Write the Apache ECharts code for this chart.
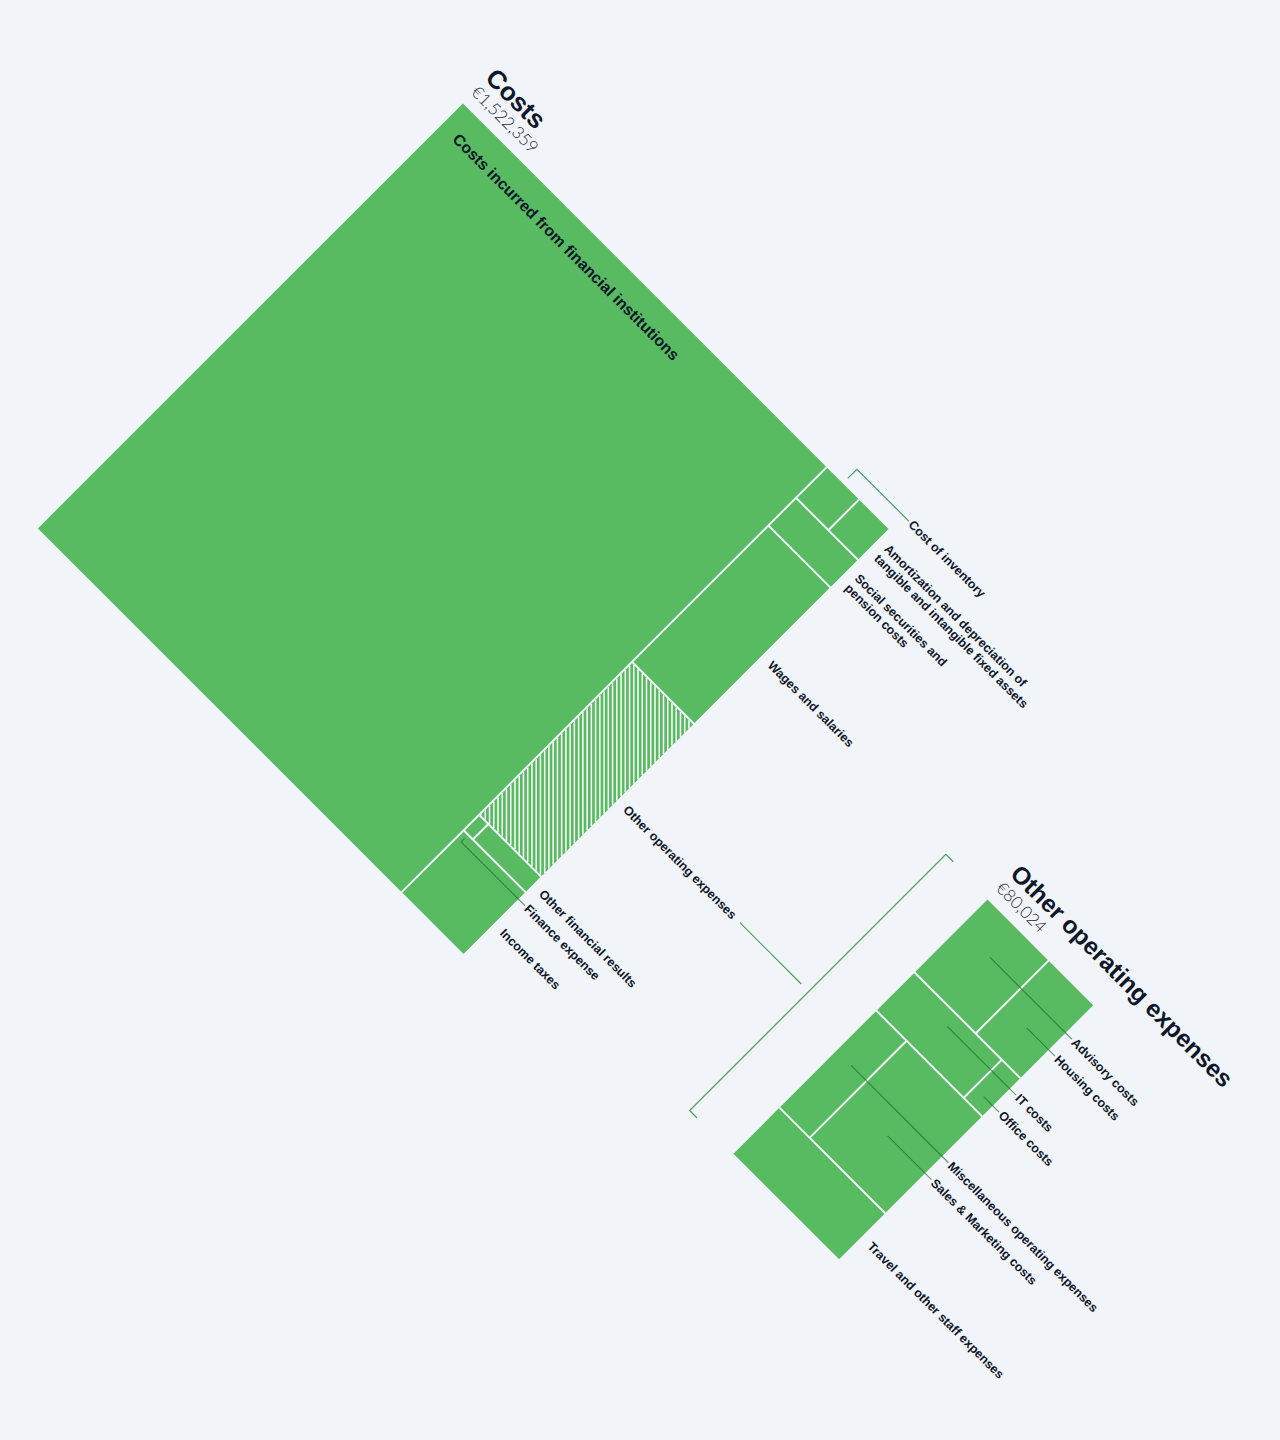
<!DOCTYPE html>
<html>
<head>
<meta charset="utf-8">
<script src="https://cdn.jsdelivr.net/npm/echarts@6/dist/echarts.min.js"></script>
<style>
html,body{margin:0;padding:0;background:#f1f5f9;width:1280px;height:1440px;overflow:hidden;}
#chart{position:absolute;left:477.14px;top:3px;width:1400px;height:720px;transform-origin:0 0;transform:rotate(45deg);}
</style>
</head>
<body>
<div id="chart"></div>
<script>
// ---------------- data ----------------
const costsTitle = 'Costs';
const costsTotal = 1522359;
const costCategories = [
  'Costs incurred from financial institutions',
  'Cost of inventory',
  'Amortization and depreciation of tangible and intangible fixed assets',
  'Social securities and pension costs',
  'Wages and salaries',
  'Other operating expenses',
  'Finance expense',
  'Other financial results',
  'Income taxes'
];
const costValues = [1299205, 8470, 7920, 14480, 71370, 80024, 1200, 6900, 32790];

const otherOpTitle = 'Other operating expenses';
const otherOpTotal = 80024;
const otherOpCategories = [
  'Advisory costs',
  'Housing costs',
  'IT costs',
  'Office costs',
  'Miscellaneous operating expenses',
  'Sales & Marketing costs',
  'Travel and other staff expenses'
];
const otherOpValues = [13280, 9770, 9830, 2140, 8750, 21620, 14634];

// ---------------- layout / style config ----------------
// columns -> rows -> item indices (tiling order of the treemaps)
const costTiling = [[[0]], [[1, 2], [3], [4], [5], [6, 7], [8]]];
const otherTiling = [[[0, 1], [2, 3], [4, 5], [6]]];
const costLabelModes = ['inside', 'bracketAbove', 'right', 'right', 'right', 'link', 'bracketBelow', 'right', 'right'];
const labelBreaks = {
  'Amortization and depreciation of tangible and intangible fixed assets': 'Amortization and depreciation of\ntangible and intangible fixed assets',
  'Social securities and pension costs': 'Social securities and\npension costs'
};
const hatchedCost = 5;

const ox = 60, oy = 80;
const G0 = {left: ox, top: oy, width: 604, height: 603};
const G1 = {left: ox + 934, top: oy + 192, width: 151.4, height: 361.3};

const GREEN = '#58bb61';
const LINK = 'rgba(20,130,40,0.75)';
const LEADER = 'rgba(20,100,40,0.62)';
const TEXT = '#0f172a';
const SUB = '#1e293b';
const FAM = '"Liberation Sans", Arial, Helvetica, sans-serif';
const LABEL_FONT = 'bold 12.5px ' + FAM;

const measureCtx = document.createElement('canvas').getContext('2d');
function textWidth(t, font) { measureCtx.font = font; return measureCtx.measureText(t).width; }

function sliceLayout(values, columns) {
  const sum = arr => arr.reduce((s, i) => s + values[i], 0);
  const total = sum(columns.flat(2));
  const rects = [];
  let x = 0;
  columns.forEach(col => {
    const colSum = sum(col.flat());
    const w = colSum / total;
    let y = 0;
    col.forEach(row => {
      const rowSum = sum(row);
      const h = rowSum / colSum;
      let xx = x;
      row.forEach((i, k) => {
        const ww = w * values[i] / rowSum;
        rects[i] = {x0: xx, x1: xx + ww, y0: y, y1: y + h, n: row.length, k: k};
        xx += ww;
      });
      y += h;
    });
    x += w;
  });
  return rects;
}

const costRects = sliceLayout(costValues, costTiling);
const otherRects = sliceLayout(otherOpValues, otherTiling);
const toData = rects => rects.map((r, i) => [r.x0, r.y0, r.x1, r.y1, i]);

function titleEls(tl, title, total) {
  return [
    {type: 'text', z2: 20, x: tl[0] - 1, y: tl[1] - 40, style: {text: title, fill: TEXT, font: 'bold ' + (title === costsTitle ? 26 : 24.5) + 'px ' + FAM, align: 'left', verticalAlign: 'middle'}},
    {type: 'text', z2: 20, x: tl[0] - 1, y: tl[1] - 18, style: {text: '€' + total.toLocaleString('en-US'), fill: SUB, font: '300 17px Lato, "Open Sans", sans-serif', align: 'left', verticalAlign: 'middle'}}
  ];
}

function cellEls(a, b, hatched) {
  const x0 = a[0] + 1, y0 = a[1] + 1, x1 = b[0] - 1, y1 = b[1] - 1;
  const els = [{type: 'rect', z2: 0, shape: {x: x0, y: y0, width: x1 - x0, height: y1 - y0}, style: {fill: GREEN}}];
  if (hatched) {
    for (let c = (y0 - x1); c <= (y1 - x0); c += 6) {
      const xa = Math.max(x0, y0 - c), xb = Math.min(x1, y1 - c);
      if (xb > xa) {
        els.push({type: 'line', z2: 1, shape: {x1: xa, y1: xa + c, x2: xb, y2: xb + c}, style: {stroke: '#ffffff', lineWidth: 1.5}});
      }
    }
  }
  return els;
}

function label(x, y, t) {
  return {type: 'text', z2: 20, x: x, y: y, style: {text: t, fill: TEXT, font: LABEL_FONT, lineHeight: 14, align: 'left', verticalAlign: 'middle'}};
}

function renderCosts(params, api) {
  const i = api.value(4);
  const a = api.coord([api.value(0), api.value(1)]);
  const b = api.coord([api.value(2), api.value(3)]);
  const tl = api.coord([0, 0]), br = api.coord([1, 1]);
  const children = cellEls(a, b, i === hatchedCost);
  const name = costCategories[i];
  const text = labelBreaks[name] || name;
  const mode = costLabelModes[i];
  const lx = br[0] + 10;
  const cx = (a[0] + b[0]) / 2, cy = (a[1] + b[1]) / 2;
  if (mode === 'inside') {
    children.push({type: 'text', z2: 20, x: a[0] + 19, y: a[1] + 29.5, style: {text: text, fill: TEXT, font: 'bold 16px ' + FAM, align: 'left', verticalAlign: 'middle'}});
  } else if (mode === 'bracketAbove') {
    const ly = a[1] - 19;
    children.push({type: 'polyline', z2: 10, shape: {points: [[cx, a[1] - 6], [cx, ly], [lx - 2, ly]]}, style: {stroke: LINK, lineWidth: 1.2, fill: null}});
    children.push(label(lx, ly, text));
  } else if (mode === 'bracketBelow') {
    const ly = b[1] + 10;
    children.push({type: 'polyline', z2: 10, shape: {points: [[cx, b[1] + 5], [cx, ly], [lx - 2, ly]]}, style: {stroke: LEADER, lineWidth: 1.2, fill: null}});
    children.push(label(lx, ly, text));
  } else {
    children.push(label(lx, cy, text));
    if (mode === 'link') {
      const bx = G1.left - 60.5;
      const sx = lx + textWidth(text, LABEL_FONT) + 8;
      children.push({type: 'line', z2: 10, shape: {x1: sx, y1: cy, x2: bx - 10.5, y2: cy}, style: {stroke: LINK, lineWidth: 1.2}});
    }
  }
  if (params.dataIndex === 0) children.push(...titleEls(tl, costsTitle, costsTotal));
  return {type: 'group', children: children};
}

function renderOther(params, api) {
  const i = api.value(4);
  const r = otherRects[i];
  const a = api.coord([api.value(0), api.value(1)]);
  const b = api.coord([api.value(2), api.value(3)]);
  const tl = api.coord([0, 0]), br = api.coord([1, 1]);
  const children = cellEls(a, b, false);
  const cx = (a[0] + b[0]) / 2, cy = (a[1] + b[1]) / 2;
  const ly = cy + (r.k - (r.n - 1) / 2) * 24;
  const lx = br[0] + 10;
  if (r.n > 1) {
    children.push({type: 'line', z2: 10, shape: {x1: cx, y1: ly, x2: br[0] + 8, y2: ly}, style: {stroke: LEADER, lineWidth: 1.2}});
  }
  children.push(label(lx, ly, otherOpCategories[i]));
  if (params.dataIndex === 0) {
    children.push(...titleEls(tl, otherOpTitle, otherOpTotal));
    const bx = tl[0] - 60.5;
    children.push({type: 'polyline', z2: 10, shape: {points: [[bx + 10.5, tl[1] - 1.5], [bx, tl[1] - 1.5], [bx, br[1] - 0.5], [bx + 10.5, br[1] - 0.5]]}, style: {stroke: LINK, lineWidth: 1.2, fill: null}});
  }
  return {type: 'group', children: children};
}

const chart = echarts.init(document.getElementById('chart'), null, {renderer: 'svg'});
const axisBase = {type: 'value', min: 0, max: 1, show: false, splitLine: {show: false}};
chart.setOption({
  backgroundColor: 'transparent',
  animation: false,
  grid: [
    {left: G0.left, top: G0.top, width: G0.width, height: G0.height},
    {left: G1.left, top: G1.top, width: G1.width, height: G1.height}
  ],
  xAxis: [Object.assign({gridIndex: 0}, axisBase), Object.assign({gridIndex: 1}, axisBase)],
  yAxis: [Object.assign({gridIndex: 0, inverse: true}, axisBase), Object.assign({gridIndex: 1, inverse: true}, axisBase)],
  series: [
    {type: 'custom', name: costsTitle, xAxisIndex: 0, yAxisIndex: 0, clip: false, renderItem: renderCosts,
      encode: {x: [0, 2], y: [1, 3]}, data: toData(costRects)},
    {type: 'custom', name: otherOpTitle, xAxisIndex: 1, yAxisIndex: 1, clip: false, renderItem: renderOther,
      encode: {x: [0, 2], y: [1, 3]}, data: toData(otherRects)}
  ]
});
</script>
</body>
</html>
